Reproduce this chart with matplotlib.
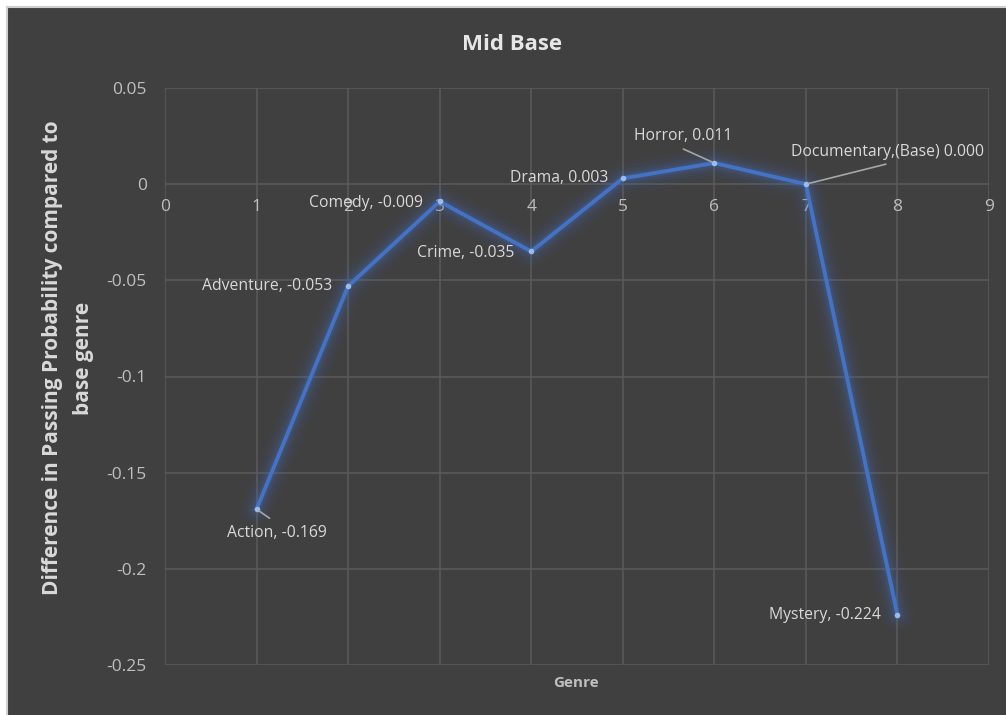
import matplotlib
matplotlib.use("Agg")
import matplotlib.pyplot as plt
from matplotlib.patches import Rectangle

plt.rcParams['font.family'] = ['Open Sans', 'DejaVu Sans']

genre_pos = [1, 2, 3, 4, 5, 6, 7, 8]
genres = ["Action", "Adventure", "Comedy", "Crime", "Drama", "Horror",
          "Documentary,(Base)", "Mystery"]
diff = [-0.169, -0.053, -0.009, -0.035, 0.003, 0.011, 0.000, -0.224]
x_ticks = [0, 1, 2, 3, 4, 5, 6, 7, 8, 9]
y_ticks = [0.05, 0, -0.05, -0.1, -0.15, -0.2, -0.25]
y_tick_labels = ["0.05", "0", "-0.05", "-0.1", "-0.15", "-0.2", "-0.25"]

bg = '#404040'
grid_c = '#595959'
txt = '#d9d9d9'
tick_c = '#bfbfbf'
blue = '#4472c4'

fig = plt.figure(figsize=(10.06, 7.15), dpi=100, facecolor='#ffffff')
fig.patches.append(Rectangle((7 / 1006, -0.01), 1.0, 708 / 715 + 0.01,
                             transform=fig.transFigure, facecolor=bg,
                             edgecolor='#d0d0d0', linewidth=1.5, zorder=-5))

ax = fig.add_axes([165 / 1006, 1 - 665 / 715, (989 - 165) / 1006, (665 - 88) / 715])
ax.set_facecolor(bg)
ax.set_xlim(0, 9)
ax.set_ylim(-0.25, 0.05)
ax.set_xticks(x_ticks)
ax.set_yticks(y_ticks)
ax.set_yticklabels(y_tick_labels)
ax.grid(True, color=grid_c, linewidth=1.2)
ax.set_axisbelow(True)
for s in ['top', 'right', 'left']:
    ax.spines[s].set_visible(False)
ax.spines['bottom'].set_position(('data', 0))
ax.spines['bottom'].set_color('none')
ax.tick_params(axis='x', length=0, pad=11, colors=tick_c, labelsize=12.5)
ax.tick_params(axis='y', length=0, pad=13, colors=tick_c, labelsize=12.5)

# glow
for w, a in [(24, 0.04), (18, 0.055), (13, 0.075), (9, 0.1), (6, 0.14)]:
    ax.plot(genre_pos, diff, color=blue, linewidth=w, alpha=a,
            solid_capstyle='round', solid_joinstyle='round', zorder=2)
ax.plot(genre_pos, diff, color=blue, linewidth=2.8, zorder=3,
        solid_joinstyle='round')
ax.scatter(genre_pos, diff, s=16, color='#9dbbe8', zorder=4, linewidths=0)

# label offsets in pixels (dx, dy upward), alignment, leader line
offsets = [(20, -24, 'center', True), (-16, 0, 'right', False),
           (-17, -2, 'right', False), (-17, -2, 'right', False),
           (-15, 0, 'right', False), (-31, 27, 'center', True),
           (-15, 32, 'left', True), (-17, 0, 'right', False)]
for xp, yp, name, (dx, dy, ha, lead) in zip(genre_pos, diff, genres, offsets):
    if name.startswith("Documentary"):
        label = f"{name} {yp:.3f}"
    else:
        label = f"{name}, {yp:.3f}"
    ax.annotate(label, (xp, yp), xytext=(dx * 0.72, dy * 0.72),
                textcoords='offset points', ha=ha, va='center',
                color=txt, fontsize=11.3, zorder=5)
    if lead:
        if name == "Action":
            end = (13, -9)
        elif name == "Horror":
            end = (-31, 14)
        else:
            end = (80, 20)
        ax.annotate("", (xp, yp), xytext=(end[0] * 0.72, end[1] * 0.72),
                    textcoords='offset points',
                    arrowprops=dict(arrowstyle='-', color='#a6a6a6', lw=1.2,
                                    shrinkA=0, shrinkB=2), zorder=5)

fig.text(512 / 1006, 1 - 45 / 715, "Mid Base", ha='center', va='center',
         color='#e6e6e6', fontsize=16, fontweight='bold')
fig.text(68 / 1006, 1 - 358 / 715,
         "Difference in Passing Probability compared to\nbase genre",
         rotation=90, ha='center', va='center', multialignment='center',
         color=txt, fontsize=15, fontweight='bold', linespacing=1.6)
fig.text(576 / 1006, 1 - 683 / 715, "Genre", ha='center', va='center',
         color=tick_c, fontsize=11, fontweight='bold')

fig.savefig("out.png", dpi=100, facecolor=fig.get_facecolor())
